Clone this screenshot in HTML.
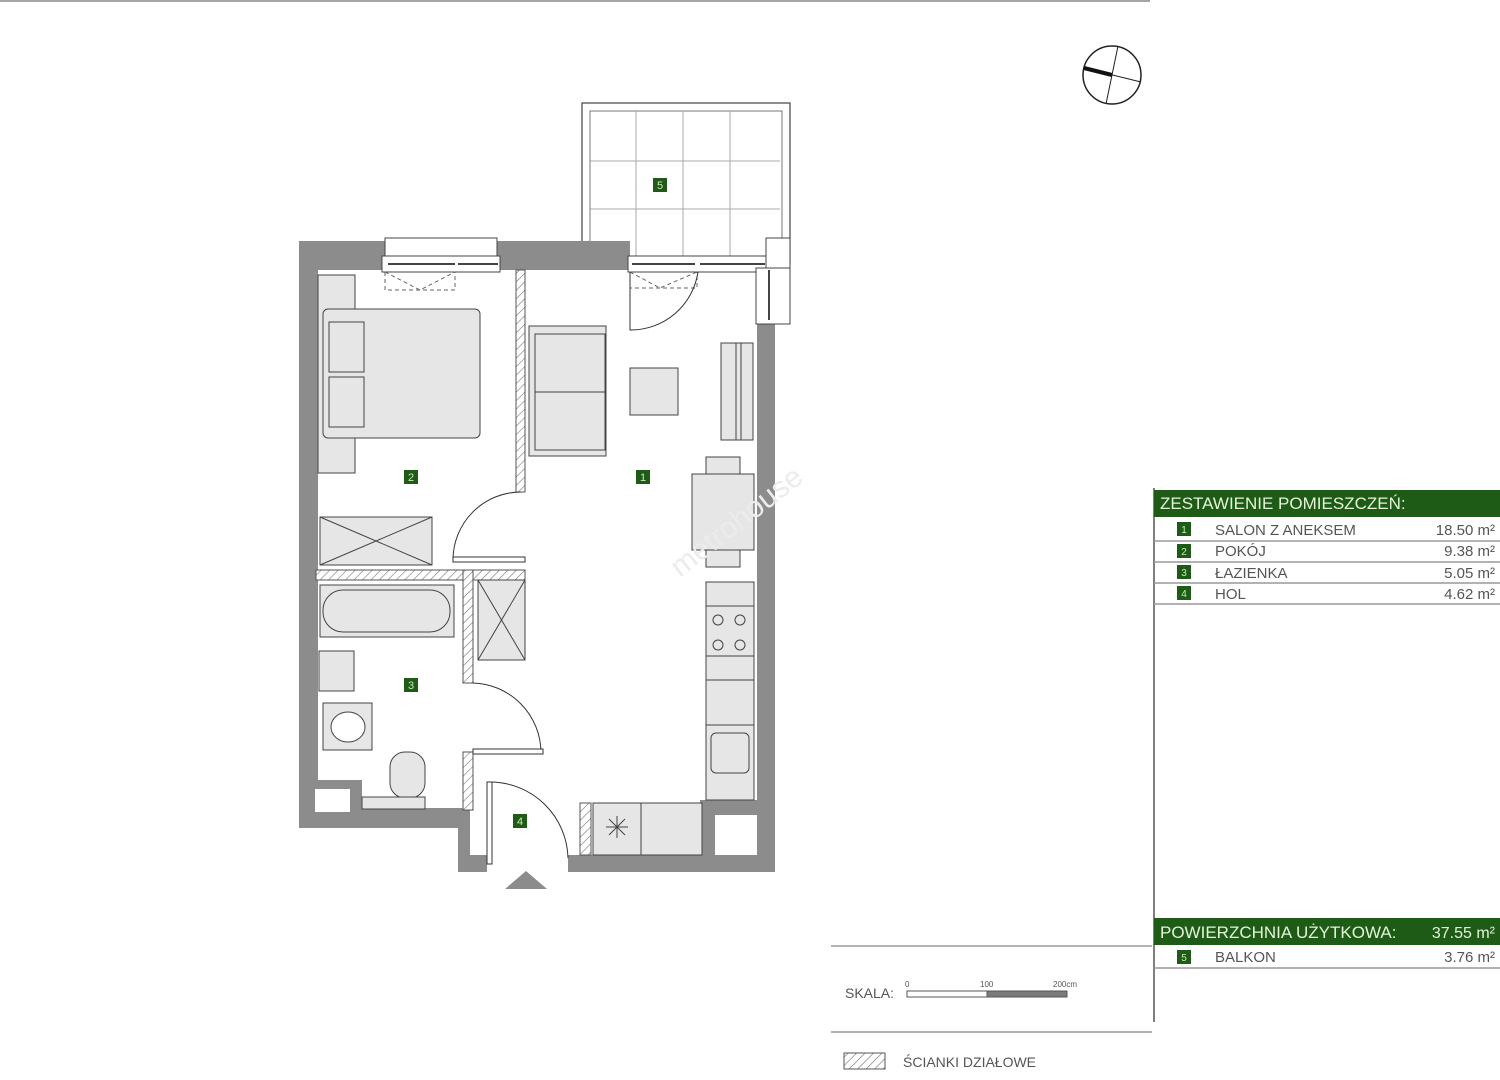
<!DOCTYPE html>
<html><head><meta charset="utf-8"><style>
html,body{margin:0;padding:0;background:#fff;}
svg{display:block;}
text{font-family:"Liberation Sans",sans-serif;}
</style></head><body>
<svg width="1500" height="1080" viewBox="0 0 1500 1080" xmlns="http://www.w3.org/2000/svg">
<defs>
<pattern id="h" width="6" height="6" patternUnits="userSpaceOnUse" patternTransform="rotate(45)">
<rect width="6" height="6" fill="#fff"/><line x1="0" y1="0" x2="0" y2="6" stroke="#777" stroke-width="1.2"/></pattern>
</defs>
<line x1="0" y1="1" x2="1150" y2="1" stroke="#888" stroke-width="1.5"/>
<circle cx="1112" cy="75" r="29" fill="#fff" stroke="#222" stroke-width="1.5"/>
<line x1="1084" y1="68" x2="1141" y2="82" stroke="#222" stroke-width="1"/>
<line x1="1106" y1="104" x2="1118" y2="46" stroke="#222" stroke-width="1"/>
<line x1="1084" y1="68" x2="1112" y2="75" stroke="#111" stroke-width="4"/>
<rect x="582" y="103" width="208" height="160" fill="#fff" stroke="#444" stroke-width="1.2"/>
<rect x="590" y="111" width="192" height="152" fill="#fff" stroke="#777" stroke-width="1"/>
<g stroke="#aaa" stroke-width="1">
<line x1="590" y1="161" x2="780" y2="161"/><line x1="590" y1="209" x2="780" y2="209"/>
<line x1="636" y1="111" x2="636" y2="262"/><line x1="683" y1="111" x2="683" y2="262"/><line x1="730" y1="111" x2="730" y2="262"/>
</g>
<g fill="#8c8c8c">
<rect x="299" y="241" width="19" height="587"/>
<rect x="299" y="241" width="86" height="29"/>
<rect x="497" y="241" width="133" height="29"/>
<rect x="757" y="320" width="18" height="552"/>
<rect x="299" y="808" width="171" height="20"/>
<rect x="458" y="808" width="12" height="64"/>
<rect x="458" y="855" width="29" height="17"/>
<rect x="568" y="855" width="207" height="17"/>
<rect x="700" y="800" width="57" height="15"/>
<rect x="700" y="800" width="15" height="55"/>
<rect x="318" y="780" width="44" height="30"/>
</g>
<rect x="315" y="789" width="35" height="23" fill="#fff"/>
<rect x="716" y="815" width="41" height="40" fill="#fff"/>
<rect x="385" y="238" width="112" height="18" fill="#fff" stroke="#444"/>
<rect x="382" y="256" width="118" height="16" fill="#fff" stroke="#444"/>
<line x1="388" y1="264" x2="455" y2="264" stroke="#444" stroke-width="2"/>
<line x1="458" y1="264" x2="498" y2="264" stroke="#444" stroke-width="2"/>
<path d="M385 272 V290 H455 V272 M385 272 L420 290 L455 272" fill="none" stroke="#666" stroke-dasharray="4,3"/>
<rect x="628" y="256" width="140" height="16" fill="#fff" stroke="#444"/>
<line x1="632" y1="264" x2="695" y2="264" stroke="#444" stroke-width="2"/>
<line x1="700" y1="264" x2="765" y2="264" stroke="#444" stroke-width="2"/>
<path d="M630 272 V288 H697 V272 M630 272 L660 288 L697 272" fill="none" stroke="#666" stroke-dasharray="4,3"/>
<path d="M630 272 V330 A68 68 0 0 0 698 272" fill="none" stroke="#333"/>
<rect x="766" y="238" width="24" height="30" fill="#fff" stroke="#444"/>
<rect x="756" y="268" width="34" height="56" fill="#fff" stroke="#444"/>
<line x1="769" y1="270" x2="769" y2="320" stroke="#444" stroke-width="2"/>
<g fill="url(#h)" stroke="#555" stroke-width="1">
<rect x="516" y="270" width="9" height="222"/>
<rect x="316" y="570" width="209" height="10"/>
<rect x="463" y="570" width="10" height="113"/>
<rect x="463" y="752" width="10" height="58"/>
<rect x="580" y="803" width="11" height="52"/>
</g>
<g fill="none" stroke="#333" stroke-width="1">
<path d="M521 492 A68 68 0 0 0 453 560"/>
<rect x="453" y="557" width="72" height="5" fill="#fff"/>
<path d="M473 683 A70 70 0 0 1 541 752"/>
<rect x="473" y="749" width="70" height="5" fill="#fff"/>
<path d="M490 782 A78 78 0 0 1 568 858"/>
<rect x="487" y="782" width="5" height="82" fill="#fff"/>
</g>
<polygon points="526,871 505,889 547,889" fill="#8c8c8c"/>
<g fill="#e6e6e6" stroke="#444" stroke-width="1">
<rect x="318" y="275" width="37" height="198"/>
<rect x="323" y="309" width="157" height="129" rx="5"/>
<rect x="329" y="322" width="35" height="50"/>
<rect x="329" y="377" width="35" height="50"/>
<rect x="320" y="517" width="112" height="48"/>
<rect x="529" y="326" width="77" height="130"/>
<rect x="535" y="334" width="70" height="116"/>
<rect x="630" y="368" width="48" height="47"/>
<rect x="721" y="343" width="32" height="97"/>
<rect x="706" y="457" width="34" height="110"/>
<rect x="692" y="474" width="62" height="76"/>
<rect x="706" y="582" width="48" height="218"/>
<rect x="320" y="585" width="134" height="52"/>
<rect x="323" y="590" width="127" height="42" rx="20"/>
<rect x="478" y="580" width="47" height="80"/>
<rect x="319" y="651" width="35" height="40"/>
<rect x="323" y="703" width="49" height="47"/>
<ellipse cx="348" cy="727" rx="17" ry="15" fill="#fff"/>
<rect x="390" y="752" width="35" height="46" rx="15"/>
<rect x="362" y="797" width="63" height="12"/>
<rect x="593" y="803" width="109" height="52"/>
<rect x="711" y="733" width="38" height="40" rx="5"/>
</g>
<g stroke="#444" fill="none" stroke-width="1">
<path d="M320 517 L432 565 M432 517 L320 565"/>
<path d="M478 580 L525 660 M525 580 L478 660"/>
<line x1="706" y1="606" x2="754" y2="606"/><line x1="706" y1="656" x2="754" y2="656"/><line x1="706" y1="680" x2="754" y2="680"/><line x1="706" y1="725" x2="754" y2="725"/>
<circle cx="718" cy="620" r="5"/><circle cx="740" cy="620" r="5"/><circle cx="718" cy="645" r="5"/><circle cx="740" cy="645" r="5"/>
<line x1="641" y1="803" x2="641" y2="855"/>
<path d="M606 827 H628 M617 816 V838 M609 819 L625 835 M625 819 L609 835"/>
<line x1="535" y1="392" x2="605" y2="392"/>
<line x1="736" y1="343" x2="736" y2="440"/><line x1="741" y1="343" x2="741" y2="440"/>
</g>
<text x="680" y="578" transform="rotate(-38 680 578)" font-size="30" fill="#ececec">metrohouse</text>
<g font-size="11" fill="#c9e8b8" text-anchor="middle">
<rect x="653" y="178" width="14" height="14" fill="#1e5b16"/><text x="660" y="189">5</text>
<rect x="636" y="470" width="14" height="14" fill="#1e5b16"/><text x="643" y="481">1</text>
<rect x="404" y="470" width="14" height="14" fill="#1e5b16"/><text x="411" y="481">2</text>
<rect x="404" y="678" width="14" height="14" fill="#1e5b16"/><text x="411" y="689">3</text>
<rect x="513" y="814" width="14" height="14" fill="#1e5b16"/><text x="520" y="825">4</text>
</g>
<line x1="1154" y1="488" x2="1154" y2="1022" stroke="#555" stroke-width="1.5"/>
<rect x="1154" y="490" width="346" height="27" fill="#1e5b16"/>
<text x="1160" y="509" font-size="17" fill="#e4f4d8">ZESTAWIENIE POMIESZCZEŃ:</text>
<g stroke="#999" stroke-width="1.5"><line x1="1154" y1="541" x2="1500" y2="541"/><line x1="1154" y1="562" x2="1500" y2="562"/><line x1="1154" y1="583" x2="1500" y2="583"/><line x1="1154" y1="604" x2="1500" y2="604"/><line x1="1154" y1="968" x2="1500" y2="968"/>
<line x1="831" y1="946" x2="1152" y2="946"/><line x1="831" y1="1032" x2="1152" y2="1032"/></g>
<g font-size="15" fill="#555">
<rect x="1177" y="522" width="14" height="14" fill="#1e5b16"/><text x="1215" y="535">SALON Z ANEKSEM</text><text x="1495" y="535" text-anchor="end">18.50 m²</text>
<rect x="1177" y="544" width="14" height="14" fill="#1e5b16"/><text x="1215" y="556">POKÓJ</text><text x="1495" y="556" text-anchor="end">9.38 m²</text>
<rect x="1177" y="565" width="14" height="14" fill="#1e5b16"/><text x="1215" y="578">ŁAZIENKA</text><text x="1495" y="578" text-anchor="end">5.05 m²</text>
<rect x="1177" y="586" width="14" height="14" fill="#1e5b16"/><text x="1215" y="599">HOL</text><text x="1495" y="599" text-anchor="end">4.62 m²</text>
<rect x="1177" y="950" width="14" height="14" fill="#1e5b16"/><text x="1215" y="962">BALKON</text><text x="1495" y="962" text-anchor="end">3.76 m²</text>
</g>
<g font-size="10" fill="#c9e8b8" text-anchor="middle"><text x="1184" y="533">1</text><text x="1184" y="555">2</text><text x="1184" y="576">3</text><text x="1184" y="597">4</text><text x="1184" y="961">5</text></g>
<rect x="1154" y="918" width="346" height="27" fill="#1e5b16"/>
<text x="1160" y="938" font-size="17" fill="#e4f4d8">POWIERZCHNIA UŻYTKOWA:</text>
<text x="1495" y="938" font-size="16" fill="#e4f4d8" text-anchor="end">37.55 m²</text>
<text x="845" y="998" font-size="14" fill="#555">SKALA:</text>
<text x="905" y="987" font-size="8" fill="#555">0</text><text x="980" y="987" font-size="8" fill="#555">100</text><text x="1053" y="987" font-size="8" fill="#555">200cm</text>
<rect x="907" y="991" width="80" height="6" fill="#fff" stroke="#555"/>
<rect x="987" y="991" width="80" height="6" fill="#7a7a7a" stroke="#555"/>
<rect x="844" y="1053" width="41" height="16" fill="url(#h)" stroke="#555"/>
<text x="903" y="1067" font-size="14" fill="#555">ŚCIANKI DZIAŁOWE</text>
</svg>
</body></html>
